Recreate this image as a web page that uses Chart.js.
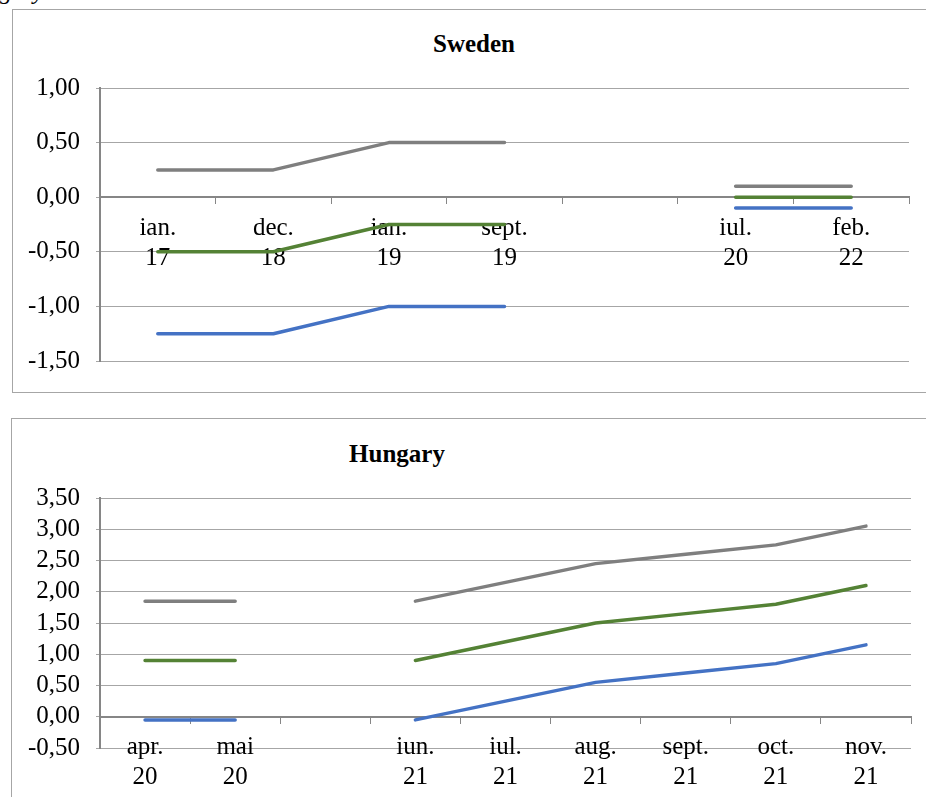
<!DOCTYPE html>
<html>
<head>
<meta charset="utf-8">
<script src="https://cdn.jsdelivr.net/npm/chart.js@4/dist/chart.umd.min.js"></script>
<style>
  html, body { margin: 0; padding: 0; background: #fff; }
  body { width: 926px; height: 797px; position: relative; overflow: hidden; font-family: "Liberation Serif", "Times New Roman", serif; }
  .frame { position: absolute; border: 1px solid #a6a6a6; background: #fff; }
  .title { position: absolute; width: 240px; text-align: center; font-weight: bold; font-size: 25px; line-height: 30px; color: #000; }
  .caption { position: absolute; font-style: italic; font-size: 24px; line-height: 24px; color: #000; white-space: nowrap; }
  canvas { position: absolute; }
</style>
</head>
<body>
<div class="caption" style="right:882px; top:-21px;">Hungary</div>

<div class="frame" style="left:12px; top:9px; width:930px; height:382px;"></div>
<div class="title" style="left:354px; top:29px;">Sweden</div>
<div style="position:absolute; left:13px; top:10px; width:913px; height:382px;">
  <canvas id="sweden" style="left:0; top:0;"></canvas>
</div>

<div class="frame" style="left:11px; top:418px; width:930px; height:400px;"></div>
<div class="title" style="left:277px; top:439px;">Hungary</div>
<div style="position:absolute; left:12px; top:419px; width:914px; height:378px;">
  <canvas id="hungary" style="left:0; top:0;"></canvas>
</div>

<script>
// Sweden
const seLabels = [['ian.', '17'], ['dec.', '18'], ['ian.', '19'], ['sept.', '19'], '', ['iul.', '20'], ['feb.', '22']];
const seUpper  = [0.25, 0.25, 0.50, 0.50, null, 0.10, 0.10];
const seMiddle = [-0.50, -0.50, -0.25, -0.25, null, 0.00, 0.00];
const seLower  = [-1.25, -1.25, -1.00, -1.00, null, -0.10, -0.10];
const seTicks  = { min: -1.5, max: 1.0, step: 0.5 };

// Hungary
const huLabels = [['apr.', '20'], ['mai', '20'], '', ['iun.', '21'], ['iul.', '21'], ['aug.', '21'], ['sept.', '21'], ['oct.', '21'], ['nov.', '21']];
const huUpper  = [1.85, 1.85, null, 1.85, 2.15, 2.45, 2.60, 2.75, 3.05];
const huMiddle = [0.90, 0.90, null, 0.90, 1.20, 1.50, 1.65, 1.80, 2.10];
const huLower  = [-0.05, -0.05, null, -0.05, 0.25, 0.55, 0.70, 0.85, 1.15];
const huTicks  = { min: -0.5, max: 3.5, step: 0.5 };

const GREY = '#7f7f7f', GREEN = '#548235', BLUE = '#4472c4';
const FONT = { family: '"Liberation Serif", "Times New Roman", serif', size: 25, lineHeight: 1.2 };

function series(data, color) {
  return {
    data: data,
    borderColor: color,
    backgroundColor: color,
    borderWidth: 3.5,
    pointRadius: 0,
    pointHoverRadius: 0,
    tension: 0,
    spanGaps: false,
    borderCapStyle: 'round',
    borderJoinStyle: 'round'
  };
}

function build(id, labels, upper, middle, lower, range, yWidth, pad) {
  const canvas = document.getElementById(id);
  const box = canvas.parentElement;
  canvas.width = box.clientWidth;
  canvas.height = box.clientHeight;
  return new Chart(canvas, {
    type: 'line',
    data: {
      labels: labels,
      datasets: [series(upper, GREY), series(middle, GREEN), series(lower, BLUE)]
    },
    options: {
      responsive: false,
      animation: false,
      events: [],
      layout: { padding: pad },
      plugins: { legend: { display: false }, title: { display: false }, tooltip: { enabled: false } },
      scales: {
        x: {
          type: 'category',
          position: { y: 0 },
          offset: true,
          grid: {
            offset: true,
            drawOnChartArea: false,
            drawTicks: true,
            tickLength: 6,
            color: '#868686',
            lineWidth: 1
          },
          border: { display: true, color: '#868686', width: 2 },
          ticks: {
            color: '#000',
            font: FONT,
            padding: 10,
            maxRotation: 0,
            minRotation: 0,
            autoSkip: false
          }
        },
        y: {
          position: 'left',
          min: range.min,
          max: range.max,
          afterFit: (axis) => { axis.width = yWidth; },
          grid: {
            color: '#a6a6a6',
            lineWidth: 1,
            tickLength: 4,
            drawTicks: true
          },
          border: { display: true, color: '#868686', width: 2 },
          ticks: {
            stepSize: range.step,
            autoSkip: false,
            color: '#000',
            font: FONT,
            padding: 16,
            callback: (v) => v.toFixed(2).replace('.', ',')
          }
        }
      }
    }
  });
}

build('sweden', seLabels, seUpper, seMiddle, seLower, seTicks, 87, { left: 0, top: 78, right: 17, bottom: 27 });
build('hungary', huLabels, huUpper, huMiddle, huLower, huTicks, 88, { left: 0, top: 79, right: 15, bottom: 49 });
</script>
</body>
</html>
